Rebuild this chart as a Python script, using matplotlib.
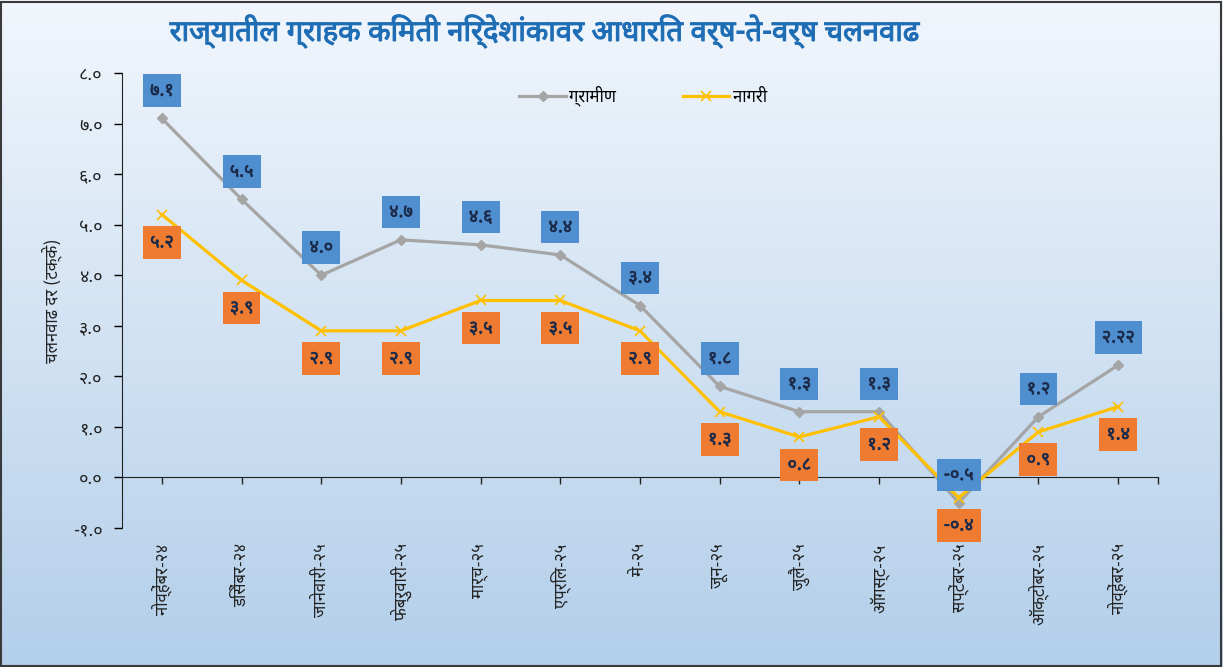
import matplotlib
matplotlib.use("Agg")
import matplotlib.pyplot as plt
import matplotlib.patheffects as pe
from matplotlib import font_manager
from matplotlib.ft2font import FT2Font
from matplotlib.colors import LinearSegmentedColormap
from matplotlib.patches import Rectangle
import numpy as np

months = ['नोव्हेंबर-२४', 'डिसेंबर-२४', 'जानेवारी-२५', 'फेब्रुवारी-२५', 'मार्च-२५',
          'एप्रिल-२५', 'मे-२५', 'जून-२५', 'जुलै-२५', 'ऑगस्ट-२५', 'सप्टेंबर-२५',
          'ऑक्टोबर-२५', 'नोव्हेंबर-२५']
rural = [7.1, 5.5, 4.0, 4.7, 4.6, 4.4, 3.4, 1.8, 1.3, 1.3, -0.5, 1.2, 2.22]
urban = [5.2, 3.9, 2.9, 2.9, 3.5, 3.5, 2.9, 1.3, 0.8, 1.2, -0.4, 0.9, 1.4]
y_ticks = np.arange(-1, 9, 1)

title = 'राज्यातील ग्राहक किंमती निर्देशांकावर आधारित वर्ष-ते-वर्ष चलनवाढ'
y_label = 'चलनवाढ दर (टक्के)'
rural_name = 'ग्रामीण'
urban_name = 'नागरी'

DEV_DIGITS = str.maketrans('0123456789', '०१२३४५६७८९')
PREFERRED = ['Noto Sans Devanagari', 'Hind', 'Mukta', 'Yantramanav', 'Poppins',
             'Martel Sans', 'Karma', 'Biryani', 'Baloo 2', 'Annapurna SIL']


def to_dev(value):
    """Formats a number with Devanagari digits, at least one decimal."""
    s = ('%.2f' % value).rstrip('0')
    if s.endswith('.'):
        s += '0'
    return s.translate(DEV_DIGITS)


def find_devanagari_fonts():
    """Lists installed font families that have Devanagari glyphs."""
    found = []
    for f in font_manager.fontManager.ttflist:
        if f.name in found:
            continue
        try:
            cmap = FT2Font(f.fname).get_charmap()
        except Exception:
            continue
        if 0x0915 in cmap:
            found.append(f.name)
    return found


def main():
    dev_fonts = find_devanagari_fonts()
    choice = [n for n in PREFERRED if n in dev_fonts]
    others = [n for n in dev_fonts if 'unifont' not in n.lower()
              and 'free' not in n.lower()]
    dev_font = (choice or others or dev_fonts or [None])[0]
    families = [dev_font, 'DejaVu Sans'] if dev_font else ['DejaVu Sans']
    plt.rcParams['font.family'] = families

    fig = plt.figure(figsize=(12.23, 6.67), dpi=100)

    # background gradient
    bg = fig.add_axes([0, 0, 1, 1], zorder=-10)
    grad = np.linspace(0, 1, 256).reshape(-1, 1)
    cmap = LinearSegmentedColormap.from_list('bg', ['#f1f6fc', '#b3cfea'])
    bg.imshow(grad, aspect='auto', cmap=cmap, extent=[0, 1, 0, 1])
    bg.set_axis_off()
    fig.patches.append(Rectangle((0.001, 0.002), 0.997, 0.995,
                                 transform=fig.transFigure, fill=False,
                                 edgecolor='#3a3a3a', linewidth=1.5))

    ax = fig.add_axes([0.0998, 0.2084, 0.847, 0.6822])
    ax.set_facecolor('none')
    x = np.arange(len(months))

    ax.plot(x, rural, color='#a5a5a5', linewidth=2.3, marker='D',
            markersize=5.5, label=rural_name, zorder=3)
    ax.plot(x, urban, color='#ffc000', linewidth=2.3, marker='x',
            markersize=7, markeredgewidth=1.2, label=urban_name, zorder=3)

    bold = [pe.withStroke(linewidth=0.5, foreground='#1c2b4a')]
    for i, v in enumerate(rural):
        ax.annotate(to_dev(v), (i, v), xytext=(0, 20), textcoords='offset points',
                    ha='center', va='center', fontsize=13, color='#1c2b4a',
                    bbox=dict(boxstyle='square,pad=0.4', fc='#4f8fd0', ec='none'),
                    path_effects=bold, zorder=5)
    for i, v in enumerate(urban):
        ax.annotate(to_dev(v), (i, v), xytext=(0, -20), textcoords='offset points',
                    ha='center', va='center', fontsize=13, color='#1c2b4a',
                    bbox=dict(boxstyle='square,pad=0.4', fc='#ee7b30', ec='none'),
                    path_effects=bold, zorder=5)

    ax.set_xlim(-0.5, len(months) - 0.5)
    ax.set_ylim(-1, 8)
    ax.set_yticks(y_ticks)
    ax.set_yticklabels([('%.1f' % t).translate(DEV_DIGITS) for t in y_ticks],
                       fontsize=13, color='#222222', fontweight='bold')
    ax.tick_params(axis='y', direction='out', length=6, width=1, pad=8)
    ax.set_ylabel(y_label, fontsize=12, color='#222222', labelpad=8,
                  fontweight='bold')

    for side in ['top', 'right', 'bottom']:
        ax.spines[side].set_visible(False)
    ax.spines['left'].set_color('#222222')

    # category labels along the bottom of the plot area
    ax.set_xticks(x)
    ax.set_xticklabels(months, rotation=90, fontsize=12, color='#222222',
                       va='top', ha='center', fontweight='bold')
    ax.tick_params(axis='x', length=0, pad=11)

    # zero line with its tick marks
    zero_axis = ax.secondary_xaxis(0, transform=ax.transData)
    zero_axis.set_xticks(list(x) + [len(months) - 0.5])
    zero_axis.set_xticklabels([])
    zero_axis.tick_params(axis='x', direction='out', length=5, width=1,
                          color='#222222')
    zero_axis.spines['bottom'].set_color('#222222')

    ax.legend(loc='upper center', bbox_to_anchor=(0.503, 1.005), ncol=2,
              frameon=False, prop={'size': 12, 'weight': 'bold'},
              columnspacing=4, handlelength=2.8, handletextpad=0.2)

    fig.text(0.446, 0.953, title, ha='center', va='center', fontsize=21,
             color='#1f6eb5', fontweight='bold',
             path_effects=[pe.withStroke(linewidth=0.8, foreground='#1f6eb5')])

    fig.savefig('out.png', dpi=100)


if __name__ == '__main__':
    main()
